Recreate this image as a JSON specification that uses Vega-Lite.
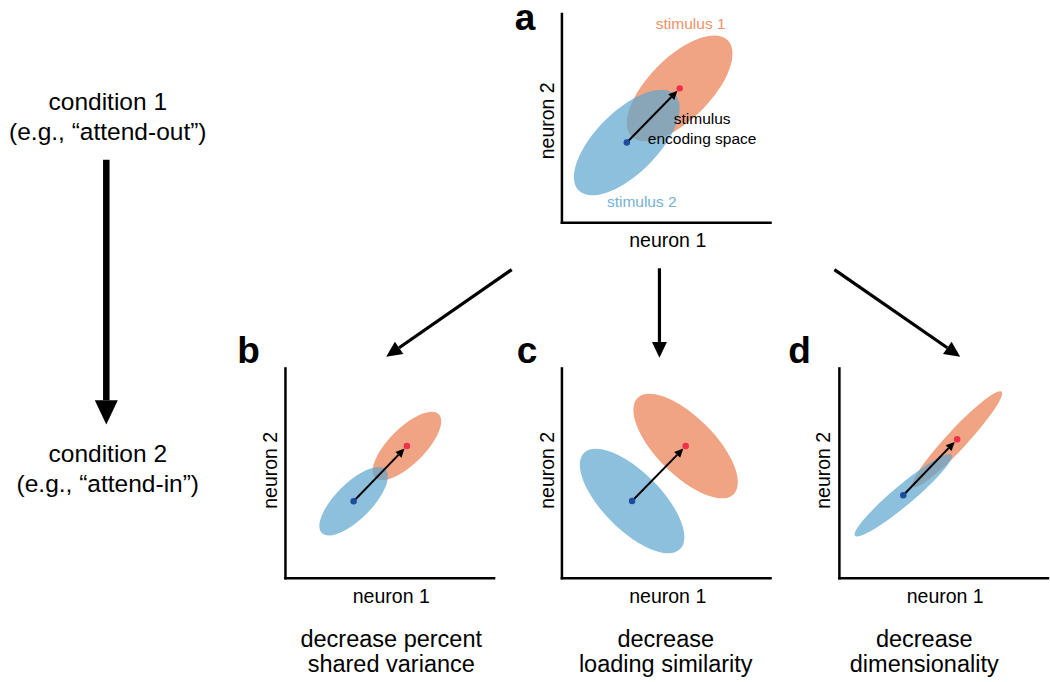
{
  "$schema": "https://vega.github.io/schema/vega-lite/v6.json",
  "width": 1050,
  "height": 682,
  "autosize": {"type": "fit", "contains": "padding"},
  "padding": 0,
  "background": "white",
  "config": {"view": {"stroke": null}, "font": "Liberation Sans"},
  "datasets": {
    "axes": [
      {"panel": "a", "x": 563, "y": 13, "x2": 563, "y2": 222},
      {"panel": "a", "x": 563, "y": 222, "x2": 772, "y2": 222},
      {"panel": "b", "x": 286, "y": 368, "x2": 286, "y2": 578},
      {"panel": "b", "x": 286, "y": 578, "x2": 495, "y2": 578},
      {"panel": "c", "x": 563, "y": 368, "x2": 563, "y2": 578},
      {"panel": "c", "x": 563, "y": 578, "x2": 772, "y2": 578},
      {"panel": "d", "x": 841, "y": 368, "x2": 841, "y2": 578},
      {"panel": "d", "x": 841, "y": 578, "x2": 1050, "y2": 578}
    ],
    "clouds": [
      {"panel": "a", "stimulus": "stimulus 1", "x": 681, "y": 87.5, "angle": -45, "key": "a"},
      {"panel": "b", "stimulus": "stimulus 1", "x": 407.7, "y": 445.7, "angle": -45, "key": "b"},
      {"panel": "c", "stimulus": "stimulus 1", "x": 687, "y": 445.7, "angle": 45, "key": "c"},
      {"panel": "d", "stimulus": "stimulus 1", "x": 959, "y": 439, "angle": -47, "key": "d1"},
      {"panel": "a", "stimulus": "stimulus 2", "x": 628, "y": 141.7, "angle": -45, "key": "a"},
      {"panel": "b", "stimulus": "stimulus 2", "x": 354.3, "y": 501, "angle": -45, "key": "b"},
      {"panel": "c", "stimulus": "stimulus 2", "x": 633.3, "y": 500.7, "angle": 45, "key": "c"},
      {"panel": "d", "stimulus": "stimulus 2", "x": 905, "y": 495, "angle": -40, "key": "d2"}
    ],
    "arrows": [
      {"name": "condition", "kind": "main", "x": 106.5, "y": 159, "x2": 106.5, "y2": 399.9, "angle": 180},
      {"name": "a to b", "kind": "branch", "x": 512.7, "y": 269, "x2": 399.9, "y2": 347.3, "angle": -124.75},
      {"name": "a to c", "kind": "branch", "x": 660.7, "y": 267.7, "x2": 660.7, "y2": 341.4, "angle": 180},
      {"name": "a to d", "kind": "branch", "x": 836, "y": 269, "x2": 949.1, "y2": 347.3, "angle": 124.8},
      {"name": "a", "kind": "inner", "x": 628, "y": 141.7, "x2": 672.6, "y2": 96.2, "angle": 44.3},
      {"name": "b", "kind": "inner", "x": 354.3, "y": 501, "x2": 399.2, "y2": 454.5, "angle": 44.0},
      {"name": "c", "kind": "inner", "x": 633.3, "y": 500.7, "x2": 678.45, "y2": 454.5, "angle": 44.3},
      {"name": "d", "kind": "inner", "x": 905, "y": 495, "x2": 950.4, "y2": 447.8, "angle": 44.5}
    ],
    "labels": [
      {"role": "letter", "text": "a", "x": 526, "y": 0},
      {"role": "letter", "text": "b", "x": 249, "y": 333},
      {"role": "letter", "text": "c", "x": 528, "y": 333},
      {"role": "letter", "text": "d", "x": 801, "y": 333},
      {"role": "xtitle", "text": "neuron 1", "x": 669, "y": 240},
      {"role": "xtitle", "text": "neuron 1", "x": 392, "y": 597},
      {"role": "xtitle", "text": "neuron 1", "x": 669, "y": 597},
      {"role": "xtitle", "text": "neuron 1", "x": 947, "y": 597},
      {"role": "ytitle", "text": "neuron 2", "x": 549, "y": 120},
      {"role": "ytitle", "text": "neuron 2", "x": 272, "y": 470},
      {"role": "ytitle", "text": "neuron 2", "x": 549, "y": 470},
      {"role": "ytitle", "text": "neuron 2", "x": 826, "y": 470},
      {"role": "condition", "text": "condition 1", "x": 108, "y": 102},
      {"role": "condition", "text": "(e.g., \u201cattend-out\u201d)", "x": 108, "y": 132},
      {"role": "condition", "text": "condition 2", "x": 108, "y": 455},
      {"role": "condition", "text": "(e.g., \u201cattend-in\u201d)", "x": 108, "y": 485},
      {"role": "caption", "text": "decrease percent", "x": 392, "y": 640},
      {"role": "caption", "text": "shared variance", "x": 392, "y": 665},
      {"role": "caption", "text": "decrease", "x": 667, "y": 640},
      {"role": "caption", "text": "loading similarity", "x": 667, "y": 665},
      {"role": "caption", "text": "decrease", "x": 926, "y": 640},
      {"role": "caption", "text": "dimensionality", "x": 926, "y": 665},
      {"role": "note", "text": "stimulus", "x": 703.5, "y": 118},
      {"role": "note", "text": "encoding space", "x": 703.5, "y": 138},
      {"role": "stimlabel", "stimulus": "stimulus 1", "text": "stimulus 1", "x": 692, "y": 23},
      {"role": "stimlabel", "stimulus": "stimulus 2", "text": "stimulus 2", "x": 643, "y": 201}
    ]
  },
  "layer": [
    {
      "data": {"name": "axes"},
      "mark": {"type": "rule", "color": "black", "strokeWidth": 2.5, "strokeCap": "square"},
      "encoding": {
        "x": {"field": "x", "type": "quantitative", "scale": {"domain": [0, 1050], "nice": false, "zero": false}, "axis": null},
        "y": {"field": "y", "type": "quantitative", "scale": {"domain": [0, 682], "nice": false, "zero": false, "reverse": true}, "axis": null},
        "x2": {"field": "x2"},
        "y2": {"field": "y2"}
      }
    },
    {
      "data": {"name": "clouds"},
      "mark": {"type": "point", "filled": true, "opacity": 0.7, "size": 4, "strokeWidth": 0},
      "encoding": {
        "x": {"field": "x", "type": "quantitative", "axis": null},
        "y": {"field": "y", "type": "quantitative", "axis": null},
        "angle": {"field": "angle", "type": "quantitative", "scale": null},
        "shape": {
          "field": "key", "type": "nominal", "legend": null,
          "scale": {
            "domain": ["a", "b", "c", "d1", "d2"],
            "range": [
              "M -68 0 A 68 31 0 1 0 68 0 A 68 31 0 1 0 -68 0 Z",
              "M -45 0 A 45 18 0 1 0 45 0 A 45 18 0 1 0 -45 0 Z",
              "M -68 0 A 68 29 0 1 0 68 0 A 68 29 0 1 0 -68 0 Z",
              "M -65 0 A 65 10 0 1 0 65 0 A 65 10 0 1 0 -65 0 Z",
              "M -63 0 A 63 10 0 1 0 63 0 A 63 10 0 1 0 -63 0 Z"
            ]
          }
        },
        "color": {
          "field": "stimulus", "type": "nominal", "legend": null,
          "scale": {"domain": ["stimulus 1", "stimulus 2"], "range": ["#eb7e4e", "#5ca5ce"]}
        }
      }
    },
    {
      "data": {"name": "arrows"},
      "mark": {"type": "rule", "color": "black", "strokeCap": "butt"},
      "encoding": {
        "x": {"field": "x", "type": "quantitative", "axis": null},
        "y": {"field": "y", "type": "quantitative", "axis": null},
        "x2": {"field": "x2"},
        "y2": {"field": "y2"},
        "strokeWidth": {
          "field": "kind", "type": "ordinal", "legend": null,
          "scale": {"type": "ordinal", "domain": ["main", "branch", "inner"], "range": [6.5, 3.2, 2]}
        }
      }
    },
    {
      "data": {"name": "arrows"},
      "mark": {"type": "point", "filled": true, "opacity": 1, "color": "black", "strokeWidth": 0, "shape": "M 0 -2.1 L -1 0 L 1 0 Z"},
      "encoding": {
        "x": {"field": "x2", "type": "quantitative", "axis": null},
        "y": {"field": "y2", "type": "quantitative", "axis": null},
        "angle": {"field": "angle", "type": "quantitative", "scale": null},
        "size": {
          "field": "kind", "type": "ordinal", "legend": null,
          "scale": {"type": "ordinal", "domain": ["main", "branch", "inner"], "range": [529, 225, 70]}
        }
      }
    },
    {
      "data": {"name": "clouds"},
      "mark": {"type": "point", "filled": true, "opacity": 1, "size": 42, "strokeWidth": 0},
      "encoding": {
        "x": {"field": "x", "type": "quantitative", "axis": null},
        "y": {"field": "y", "type": "quantitative", "axis": null},
        "fill": {
          "field": "stimulus", "type": "nominal", "legend": null,
          "scale": {"domain": ["stimulus 1", "stimulus 2"], "range": ["#ef2f4b", "#1d4c9c"]}
        }
      }
    },
    {
      "data": {"name": "labels"},
      "transform": [{"filter": "datum.role === 'letter'"}],
      "mark": {"type": "text", "fontSize": 37, "fontWeight": "bold", "align": "center", "baseline": "top", "color": "black"},
      "encoding": {
        "x": {"field": "x", "type": "quantitative", "axis": null},
        "y": {"field": "y", "type": "quantitative", "axis": null},
        "text": {"field": "text"}
      }
    },
    {
      "data": {"name": "labels"},
      "transform": [{"filter": "datum.role === 'xtitle'"}],
      "mark": {"type": "text", "fontSize": 19.5, "align": "center", "baseline": "middle", "color": "black"},
      "encoding": {
        "x": {"field": "x", "type": "quantitative", "axis": null},
        "y": {"field": "y", "type": "quantitative", "axis": null},
        "text": {"field": "text"}
      }
    },
    {
      "data": {"name": "labels"},
      "transform": [{"filter": "datum.role === 'ytitle'"}],
      "mark": {"type": "text", "fontSize": 19.5, "align": "center", "baseline": "middle", "angle": 270, "color": "black"},
      "encoding": {
        "x": {"field": "x", "type": "quantitative", "axis": null},
        "y": {"field": "y", "type": "quantitative", "axis": null},
        "text": {"field": "text"}
      }
    },
    {
      "data": {"name": "labels"},
      "transform": [{"filter": "datum.role === 'condition'"}],
      "mark": {"type": "text", "fontSize": 24.5, "align": "center", "baseline": "middle", "color": "black"},
      "encoding": {
        "x": {"field": "x", "type": "quantitative", "axis": null},
        "y": {"field": "y", "type": "quantitative", "axis": null},
        "text": {"field": "text"}
      }
    },
    {
      "data": {"name": "labels"},
      "transform": [{"filter": "datum.role === 'caption'"}],
      "mark": {"type": "text", "fontSize": 23.5, "align": "center", "baseline": "middle", "color": "black"},
      "encoding": {
        "x": {"field": "x", "type": "quantitative", "axis": null},
        "y": {"field": "y", "type": "quantitative", "axis": null},
        "text": {"field": "text"}
      }
    },
    {
      "data": {"name": "labels"},
      "transform": [{"filter": "datum.role === 'note'"}],
      "mark": {"type": "text", "fontSize": 15.5, "align": "center", "baseline": "middle", "color": "black"},
      "encoding": {
        "x": {"field": "x", "type": "quantitative", "axis": null},
        "y": {"field": "y", "type": "quantitative", "axis": null},
        "text": {"field": "text"}
      }
    },
    {
      "data": {"name": "labels"},
      "transform": [{"filter": "datum.role === 'stimlabel'"}],
      "mark": {"type": "text", "fontSize": 15.5, "align": "center", "baseline": "middle", "opacity": 0.85},
      "encoding": {
        "x": {"field": "x", "type": "quantitative", "axis": null},
        "y": {"field": "y", "type": "quantitative", "axis": null},
        "text": {"field": "text"},
        "color": {"field": "stimulus", "type": "nominal", "legend": null}
      }
    }
  ]
}
